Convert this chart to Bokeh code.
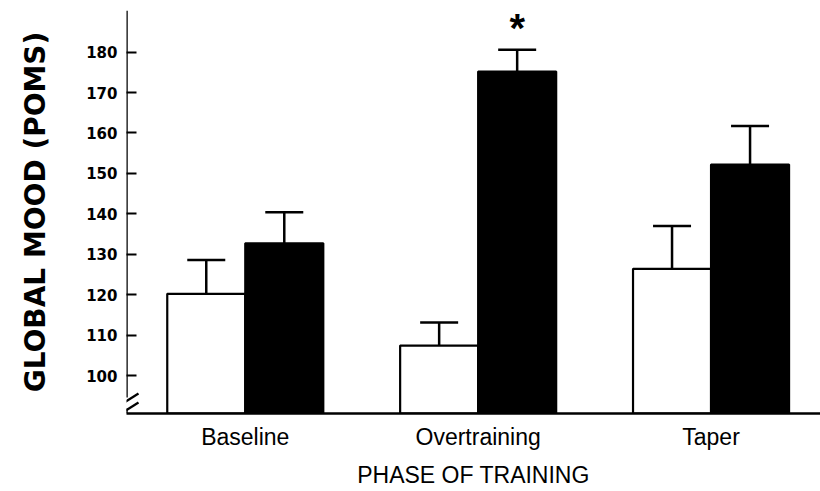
from bokeh.plotting import figure
from bokeh.models import (ColumnDataSource, Range1d, FixedTicker, Whisker, TeeHead)
from bokeh.core.properties import value
from bokeh.embed import file_html
from bokeh.resources import INLINE

# Global mood (POMS) by phase of training, two groups of athletes
phases = ["Baseline", "Overtraining", "Taper"]
open_mean = [120.2, 107.4, 126.4]
open_sem = [8.4, 5.7, 10.6]
filled_mean = [132.7, 175.2, 152.2]
filled_sem = [7.7, 5.4, 9.5]
y_ticks = [100, 110, 120, 130, 140, 150, 160, 170, 180]
significant = [False, True, False]

Y_START, Y_END = 90.6, 190.3
X_START, X_END = -0.51, 2.47
BAR_W = 0.335
OFF = BAR_W / 2

centers = list(range(len(phases)))
x_open = [c - OFF for c in centers]
x_filled = [c + OFF for c in centers]

p = figure(width=820, height=491, output_backend="svg", toolbar_location=None,
           x_range=Range1d(X_START, X_END), y_range=Range1d(Y_START, Y_END),
           min_border_left=126, min_border_right=0, min_border_top=10,
           min_border_bottom=78)
p.outline_line_color = None
p.xgrid.visible = False
p.ygrid.visible = False
p.background_fill_color = "white"
p.border_fill_color = "white"

# bars
p.vbar(x=x_open, top=open_mean, bottom=Y_START, width=BAR_W,
       fill_color="white", line_color="black", line_width=2.2)
p.vbar(x=x_filled, top=filled_mean, bottom=Y_START, width=BAR_W,
       fill_color="black", line_color="black", line_width=2.2)

# upward error bars
err_src = ColumnDataSource(data=dict(
    x=x_open + x_filled,
    lower=open_mean + filled_mean,
    upper=[m + s for m, s in zip(open_mean, open_sem)] +
          [m + s for m, s in zip(filled_mean, filled_sem)],
))
p.add_layout(Whisker(source=err_src, base="x", lower="lower", upper="upper",
                     dimension="height", line_color="black", line_width=2.5,
                     upper_head=TeeHead(size=38, line_color="black", line_width=2.5),
                     lower_head=None))

# significance marker above the error bar
star_x = [x for x, s in zip(x_filled, significant) if s]
star_y = [m + e + 5.4 for m, e, s in zip(filled_mean, filled_sem, significant) if s]
p.text(x=star_x, y=star_y, text=["*"] * len(star_x), text_align="center",
       text_baseline="alphabetic", text_font=value("Liberation Sans"),
       text_font_style="bold", text_font_size="40px", text_color="black")

# y axis
yax = p.yaxis[0]
yax.ticker = FixedTicker(ticks=y_ticks)
yax.axis_line_color = None
yax.major_tick_in = 10
yax.major_tick_out = 0
yax.minor_tick_line_color = None
yax.major_tick_line_width = 2.2
yax.major_tick_line_color = "black"
yax.major_label_standoff = 9
yax.major_label_text_font = "DejaVu Sans"
yax.major_label_text_font_style = "bold"
yax.major_label_text_font_size = "15px"
yax.major_label_text_color = "black"
yax.axis_label = "GLOBAL MOOD (POMS)"
yax.axis_label_text_font = "DejaVu Sans"
yax.axis_label_text_font_style = "bold"
yax.axis_label_text_font_size = "28px"
yax.axis_label_text_color = "black"
yax.axis_label_standoff = 31

# y axis line with a break near the bottom
px_x = (X_END - X_START) / 694.0
px_y = (Y_END - Y_START) / 403.0
break_top = Y_START + 16 * px_y
p.segment(x0=[X_START], y0=[break_top], x1=[X_START], y1=[Y_END],
          line_color="black", line_width=2.5)
slash_y = [Y_START + 14 * px_y, Y_START + 5 * px_y]
p.segment(x0=[X_START - 7 * px_x] * 2, y0=[y - 6 * px_y for y in slash_y],
          x1=[X_START + 12 * px_x] * 2, y1=[y + 6 * px_y for y in slash_y],
          line_color="black", line_width=2.2)
p.segment(x0=[X_START], y0=[Y_START], x1=[X_START], y1=[slash_y[1]],
          line_color="black", line_width=2.5)

# x axis
xax = p.xaxis[0]
xax.ticker = FixedTicker(ticks=centers)
xax.major_label_overrides = {c: name for c, name in zip(centers, phases)}
xax.axis_line_color = "black"
xax.axis_line_width = 2.5
xax.major_tick_line_color = None
xax.minor_tick_line_color = None
xax.major_tick_in = 0
xax.major_tick_out = 0
xax.major_label_standoff = 10
xax.major_label_text_font = "Liberation Sans"
xax.major_label_text_font_size = "23px"
xax.major_label_text_color = "black"
xax.axis_label = "PHASE OF TRAINING"
xax.axis_label_text_font = "Liberation Sans"
xax.axis_label_text_font_style = "normal"
xax.axis_label_text_font_size = "23px"
xax.axis_label_text_color = "black"
xax.axis_label_standoff = 9

open("out.html", "w").write(file_html(p, INLINE))
